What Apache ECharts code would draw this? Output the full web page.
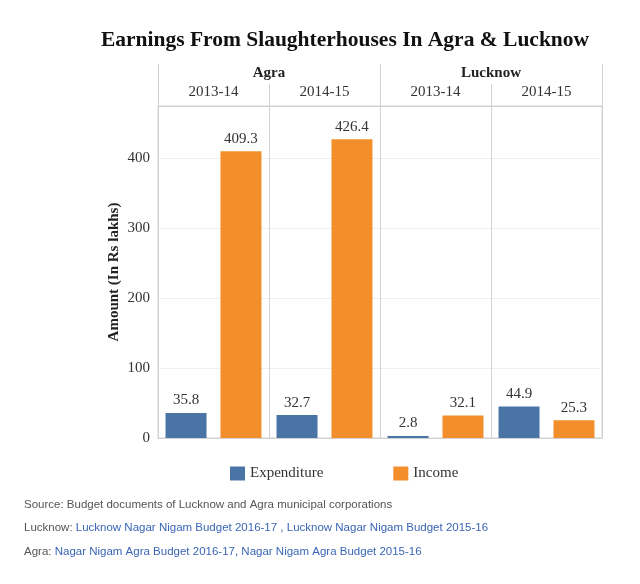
<!DOCTYPE html>
<html>
<head>
<meta charset="utf-8">
<script src="https://cdn.jsdelivr.net/npm/echarts@6/dist/echarts.min.js"></script>
<style>
  html, body { margin: 0; padding: 0; background: #fff; }
  #main { width: 640px; height: 584px; }
</style>
</head>
<body>
<div id="main"></div>
<script>
var cities = ['Agra', 'Lucknow'];
var years = ['2013-14', '2014-15', '2013-14', '2014-15'];
var expenditure = [35.8, 32.7, 2.8, 44.9];
var income = [409.3, 426.4, 32.1, 25.3];
var yTicks = [0, 100, 200, 300, 400];

var serif = '"Liberation Serif", "DejaVu Serif", serif';
var sans = '"Liberation Sans", Arial, sans-serif';
var lineColor = '#d2d2d2';

var chart = echarts.init(document.getElementById('main'));

var dataLabel = {
    show: true,
    position: 'top',
    distance: 5,
    fontFamily: serif,
    fontSize: 15,
    color: '#333'
};

var option = {
    animation: false,
    grid: {
        left: 158,
        right: 38,
        top: 106,
        bottom: 146,
        show: true,
        borderColor: lineColor,
        borderWidth: 1
    },
    legend: {
        left: 225,
        top: 461,
        icon: 'rect',
        itemWidth: 15,
        itemHeight: 14,
        itemGap: 70,
        textStyle: { fontFamily: serif, fontSize: 15, color: '#333' },
        data: ['Expenditure', 'Income']
    },
    xAxis: [{
        type: 'category',
        data: years,
        axisLine: { lineStyle: { color: lineColor } },
        axisTick: { show: false },
        axisLabel: { show: false },
        splitLine: { show: true, lineStyle: { color: lineColor } }
    }, {
        type: 'category',
        position: 'top',
        data: years,
        axisLine: { show: true, lineStyle: { color: lineColor } },
        axisTick: { show: true, length: 22, lineStyle: { color: lineColor } },
        axisLabel: { margin: 6, fontFamily: serif, fontSize: 15, color: '#333' }
    }, {
        type: 'category',
        position: 'top',
        offset: 22,
        data: cities,
        axisLine: { show: false },
        axisTick: { show: true, length: 20, lineStyle: { color: lineColor } },
        axisLabel: { margin: 3, fontFamily: serif, fontSize: 15, fontWeight: 'bold', color: '#222' }
    }],
    yAxis: {
        type: 'value',
        min: 0,
        max: 474,
        interval: 100,
        name: 'Amount (In Rs lakhs)',
        nameLocation: 'middle',
        nameGap: 36,
        nameMoveOverlap: false,
        nameTextStyle: { fontFamily: serif, fontSize: 15, fontWeight: 'bold', color: '#222' },
        axisLine: { show: false },
        axisTick: { show: false },
        axisLabel: {
            margin: 8,
            fontFamily: serif,
            fontSize: 15,
            color: '#333',
            formatter: function (v) {
                return yTicks.indexOf(v) >= 0 ? String(v) : '';
            }
        },
        splitLine: { lineStyle: { color: '#efefef' } }
    },
    series: [{
        name: 'Expenditure',
        type: 'bar',
        data: expenditure,
        barWidth: 41,
        barGap: '34%',
        itemStyle: { color: '#4a74a6' },
        label: dataLabel
    }, {
        name: 'Income',
        type: 'bar',
        data: income,
        barWidth: 41,
        itemStyle: { color: '#f28e2b' },
        label: dataLabel
    }],
    graphic: [{
        type: 'text',
        x: 345,
        y: 40,
        style: {
            text: 'Earnings From Slaughterhouses In Agra & Lucknow',
            fontFamily: serif,
            fontSize: 21.5,
            fontWeight: 'bold',
            fill: '#111',
            align: 'center',
            verticalAlign: 'middle'
        }
    }, {
        type: 'text',
        x: 24,
        y: 505,
        style: {
            text: 'Source: Budget documents of Lucknow and Agra municipal corporations',
            fontFamily: sans,
            fontSize: 11.5,
            fill: '#555',
            verticalAlign: 'middle'
        }
    }, {
        type: 'text',
        x: 24,
        y: 528,
        style: {
            text: '{g|Lucknow: }{b|Lucknow Nagar Nigam Budget 2016-17 , Lucknow Nagar Nigam Budget 2015-16}',
            verticalAlign: 'middle',
            rich: {
                g: { fontFamily: sans, fontSize: 11.5, fill: '#555' },
                b: { fontFamily: sans, fontSize: 11.5, fill: '#3a66b5' }
            }
        }
    }, {
        type: 'text',
        x: 24,
        y: 552,
        style: {
            text: '{g|Agra: }{b|Nagar Nigam Agra Budget 2016-17, Nagar Nigam Agra Budget 2015-16}',
            verticalAlign: 'middle',
            rich: {
                g: { fontFamily: sans, fontSize: 11.5, fill: '#555' },
                b: { fontFamily: sans, fontSize: 11.5, fill: '#3a66b5' }
            }
        }
    }]
};

chart.setOption(option);
</script>
</body>
</html>
